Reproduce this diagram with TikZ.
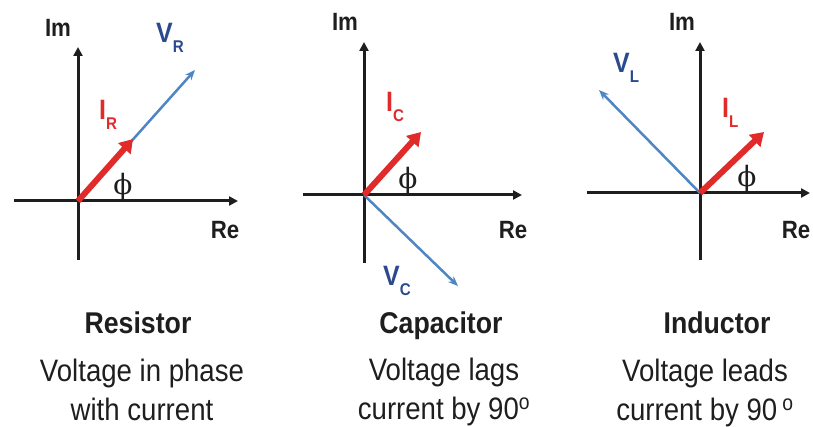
\documentclass[tikz,border=0pt]{standalone}
\usepackage{fontspec}
\setmainfont[FakeStretch=0.89]{Liberation Sans}
\newfontfamily\phifont{DejaVu Serif}
\usetikzlibrary{arrows.meta,positioning}
\definecolor{phred}{HTML}{E12B2B}
\definecolor{phblue}{HTML}{4E86C4}
\definecolor{phnavy}{HTML}{2B4A8E}
\definecolor{ink}{HTML}{1E1E1E}
\newcommand{\lowsub}[1]{\raisebox{-10pt}{\fontsize{17}{17}\selectfont #1}}

\begin{document}
\begin{tikzpicture}[x=1pt,y=-1pt,
axis/.style={ink,line width=3pt,-{Triangle[length=9pt,width=9pt]}},
volt/.style={phblue,line width=2.5pt,-{Stealth[length=10pt,width=8pt]}},
curr/.style={phred,line width=6pt,-{Triangle[length=13pt,width=16pt]}},
axlbl/.style={ink,font=\fontsize{25}{25}\selectfont\bfseries,inner sep=0,anchor=base},
vlbl/.style={phnavy,font=\fontsize{28}{28}\selectfont\bfseries,inner sep=0,anchor=base west},
ilbl/.style={phred,font=\fontsize{28}{28}\selectfont\bfseries,inner sep=0,anchor=base west},
angle/.style={ink,font=\fontsize{28}{28}\selectfont\phifont,inner sep=0,anchor=south},
title/.style={ink,font=\fontsize{30}{30}\selectfont\bfseries,inner sep=0,anchor=base},
desc/.style={ink,font=\fontsize{31}{39}\selectfont,inner sep=0,anchor=base,align=center}]
\useasboundingbox (0,0) rectangle (813,427);

% resistor
\coordinate (o1) at (78,201);
\coordinate (x1a) at (14,201); \coordinate (x1b) at (238,201);
\coordinate (y1a) at (78,260); \coordinate (y1b) at (78,47);
\coordinate (v1) at (195,70); \coordinate (i1) at (133,139);
\draw[axis] (x1a) -- (x1b);
\draw[axis] (y1a) -- (y1b);
\draw[volt] (o1) -- (v1);
\draw[curr] (o1) -- (i1);
\node[axlbl] (im1) at (58,37) {Im};
\node[axlbl] (re1) at (225,239) {Re};
\node[vlbl] (vr) at (156,43) {V\lowsub{R}};
\node[ilbl] (ir) at (99,120) {I\lowsub{R}};
\node[angle] (phi1) at (123,201) {ϕ};
\node[title] (rtitle) at (138,333) {Resistor};
\node[desc] (rdesc) at (142,420) {Voltage in phase\\with current};

% capacitor
\coordinate (o2) at (364,195);
\coordinate (x2a) at (303,195); \coordinate (x2b) at (522,195);
\coordinate (y2a) at (364,263); \coordinate (y2b) at (364,42);
\coordinate (v2) at (458,286); \coordinate (i2) at (421,132);
\draw[axis] (x2a) -- (x2b);
\draw[axis] (y2a) -- (y2b);
\draw[volt] (o2) -- (v2);
\draw[curr] (o2) -- (i2);
\node[axlbl] (im2) at (345,31) {Im};
\node[axlbl] (re2) at (513,239) {Re};
\node[vlbl] (vc) at (383,286) {V\lowsub{C}};
\node[ilbl] (ic) at (386,112) {I\lowsub{C}};
\node[angle] (phi2) at (408,195) {ϕ};
\node[title] (ctitle) at (441,333) {Capacitor};
\node[desc] (cdesc) at (444,419) {Voltage lags\\current by 90\textsuperscript{o}};

% inductor
\coordinate (o3) at (700,193);
\coordinate (x3a) at (587,193); \coordinate (x3b) at (810,193);
\coordinate (y3a) at (700,260); \coordinate (y3b) at (700,42);
\coordinate (v3) at (599,90); \coordinate (i3) at (764,132);
\draw[axis] (x3a) -- (x3b);
\draw[axis] (y3a) -- (y3b);
\draw[volt] (o3) -- (v3);
\draw[curr] (o3) -- (i3);
\node[axlbl] (im3) at (682,31) {Im};
\node[axlbl] (re3) at (796,239) {Re};
\node[vlbl] (vl) at (613,73) {V\lowsub{L}};
\node[ilbl] (il) at (722,118) {I\lowsub{L}};
\node[angle] (phi3) at (747,193) {ϕ};
\node[title] (ltitle) at (717,333) {Inductor};
\node[desc] (ldesc) at (705,420) {Voltage leads\\current by 90\,\textsuperscript{o}};
\end{tikzpicture}
\end{document}
